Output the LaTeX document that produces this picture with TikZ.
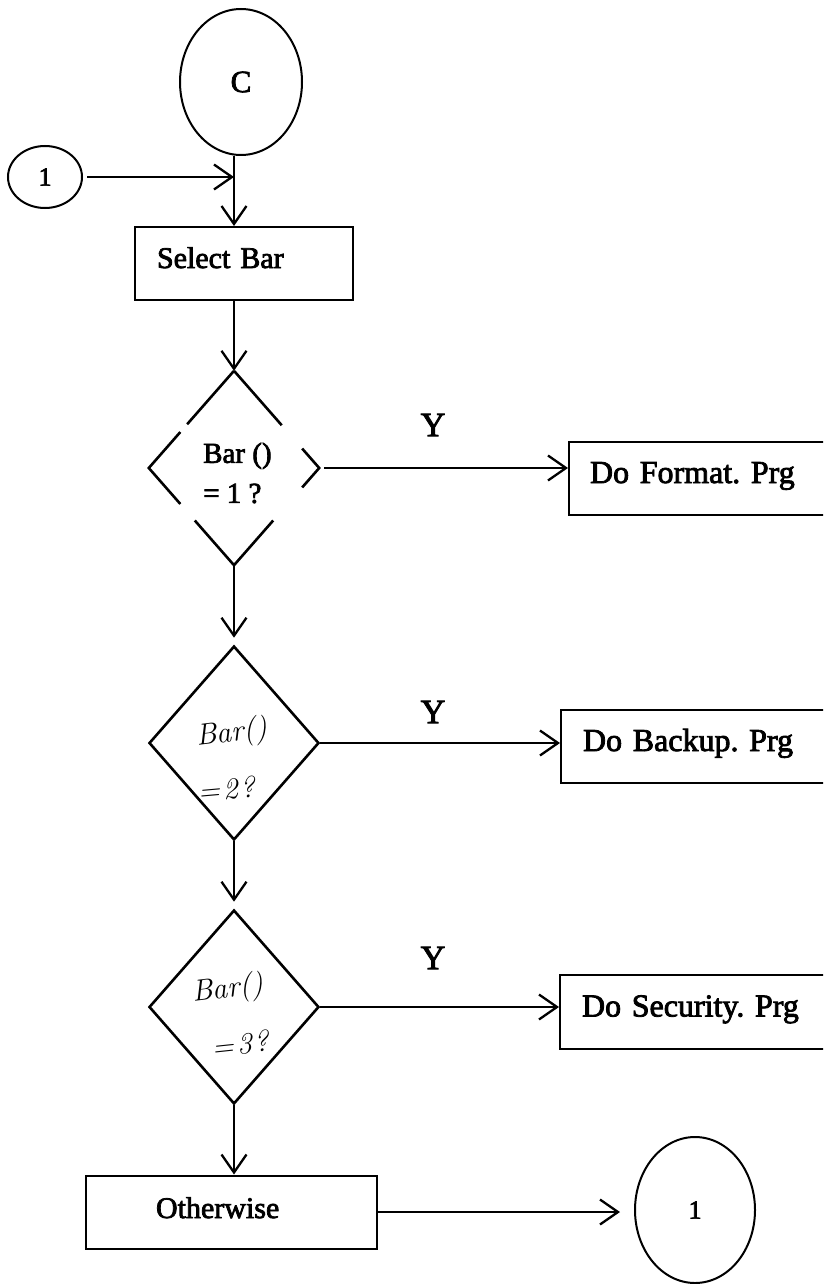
\documentclass[tikz,border=0pt]{standalone}
\usepackage{fontspec}
\setmainfont{Liberation Serif}
\newfontfamily\printfont{Liberation Serif}[FakeBold=2.5]
\usetikzlibrary{shapes.geometric,arrows.meta,calc}
\frenchspacing

\begin{document}
\begin{tikzpicture}[x=1pt,y=-1pt,
  line/.style={line width=2.6pt},
  arr/.style={line width=2.3pt,-{Straight Barb[length=18pt,width=25pt]}},
  procbox/.style={draw,rectangle,line width=2pt,minimum height=73pt,
    align=left,text height=21pt,text depth=12pt,inner ysep=0pt,
    font=\printfont\fontsize{32}{38}\selectfont},
  connector/.style={draw,ellipse,line width=2pt,inner sep=0pt},
  decision/.style={diamond,inner sep=0pt,minimum width=170pt,minimum height=194pt},
  ylabel/.style={inner sep=0pt,font=\printfont\fontsize{34}{40}\selectfont},
  hand/.style={inner sep=0pt,font=\fontfamily{lmr}\itshape\fontsize{30}{34}\selectfont}
]
\useasboundingbox (0,0) rectangle (823,1284);
\clip (0,0) rectangle (823,1284);

% main vertical flow line
\coordinate (col) at (234,0);

% connectors
\node[connector,minimum width=122pt,minimum height=146pt,
      font=\printfont\fontsize{31}{36}\selectfont] (start) at (241,82) {C};
\node[connector,minimum width=74pt,minimum height=62pt,
      font=\printfont\fontsize{26}{30}\selectfont] (in1) at (45,177) {1};
\node[connector,minimum width=120pt,minimum height=146pt,
      font=\printfont\fontsize{26}{30}\selectfont] (out1) at (695,1210) {1};

% process boxes
\node[procbox,font=\printfont\fontsize{30}{36}\selectfont,
      minimum width=218pt,text width=174pt,inner xsep=22pt] (sel) at (244,263.5) {Select Bar};
\node[procbox,minimum width=262pt,text width=220pt,inner xsep=21pt] (fmt) at (700,478.5) {Do Format. Prg};
\node[procbox,minimum width=270pt,text width=226pt,inner xsep=22pt,text depth=11pt] (bak) at (696,746) {Do Backup. Prg};
\node[procbox,minimum width=272pt,text width=228pt,inner xsep=22pt,minimum height=74pt] (sec) at (696,1012) {Do Security. Prg};
\node[procbox,font=\printfont\fontsize{30}{36}\selectfont,text depth=9pt,
      minimum width=291pt,text width=151pt,inner xsep=70pt] (oth) at (231.5,1212) {Otherwise};

% decisions
\node[decision] (d1) at (234,468) {};
\node[decision,draw,line width=2.6pt] (d2) at (234,743) {};
\node[decision,draw,line width=2.6pt] (d3) at (234,1007) {};

% first decision: outline broken around its label
\draw[line] (d1.north) -- ($(d1.north)!0.55!(d1.west)$);
\draw[line] ($(d1.north)!0.63!(d1.west)$) -- (d1.west) -- ($(d1.west)!0.37!(d1.south)$);
\draw[line] ($(d1.west)!0.54!(d1.south)$) -- (d1.south) -- ($(d1.south)!0.46!(d1.east)$);
\draw[line] ($(d1.south)!0.8!(d1.east)$) -- (d1.east) -- ($(d1.east)!0.2!(d1.north)$);
\draw[line] ($(d1.east)!0.44!(d1.north)$) -- (d1.north);

% decision labels
\node[anchor=west,align=left,inner sep=0pt,
      font=\printfont\fontsize{29}{40}\selectfont] (q1) at (203,473) {Bar ()\\= 1 ?};
\node[hand,rotate=7] (q2a) at (232,734) {Bar()};
\node[hand,rotate=5] (q2b) at (226,789) {=\kern3pt2\kern2pt?};
\node[hand,rotate=7] (q3a) at (228,990) {Bar()};
\node[hand,rotate=6] (q3b) at (240,1044) {=\kern3pt3\kern2pt?};

% yes labels
\node[ylabel] (y1) at (433,425) {Y};
\node[ylabel] (y2) at (433,712) {Y};
\node[ylabel] (y3) at (433,958) {Y};

% flow
\draw[arr,shorten <=4pt] (in1.east) -- (in1.east -| col);
\draw[arr] (start.south -| col) -- (sel.north -| col);
\draw[arr] (sel.south -| col) -- (d1.north);
\draw[arr,shorten >=7pt] (d1.south) -- (d2.north);
\draw[arr,shorten >=7pt] (d2.south) -- (d3.north);
\draw[arr] (d3.south) -- (oth.north -| col);

\draw[arr,shorten <=5pt] (d1.east) -- (d1.east -| fmt.west);
\draw[arr] (d2.east) -- (d2.east -| bak.west);
\draw[arr] (d3.east) -- (d3.east -| sec.west);
\draw[arr,shorten >=14pt] (oth.east) -- (oth.east -| out1.west);
\end{tikzpicture}
\end{document}
